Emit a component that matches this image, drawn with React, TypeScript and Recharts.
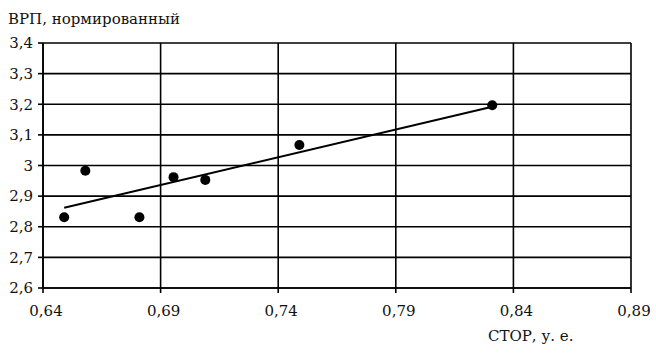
import React from 'react';
import { ScatterChart, Scatter, XAxis, YAxis, CartesianGrid } from 'recharts';

const xTicks = [0.64, 0.69, 0.74, 0.79, 0.84, 0.89];
const yTicks = [2.6, 2.7, 2.8, 2.9, 3.0, 3.1, 3.2, 3.3, 3.4];
const storValues = [0.649, 0.658, 0.681, 0.6955, 0.709, 0.749, 0.831];
const vrpValues = [2.831, 2.983, 2.831, 2.962, 2.953, 3.067, 3.197];
const trendX = [0.649, 0.831];
const trendY = [2.862, 3.192];

const points = storValues.map((x, i) => ({ x, y: vrpValues[i] }));
const trend = trendX.map((x, i) => ({ x, y: trendY[i] }));

const FONT = 'DejaVu Serif';
const fmt = (v: number) => {
  const r = Math.round(v * 100) / 100;
  let s: string;
  if (Math.abs(r - Math.round(r)) < 1e-6) s = String(Math.round(r));
  else if (Math.abs(r * 10 - Math.round(r * 10)) < 1e-6) s = r.toFixed(1);
  else s = r.toFixed(2);
  return s.replace('.', ',');
};

const Dot = (props: any) => <circle cx={props.cx} cy={props.cy} r={5} fill="#000" />;
const NoDot = () => <g />;

export default function App() {
  return (
    <div style={{ position: 'fixed', left: 0, top: 0, width: 656, height: 354, fontFamily: FONT, color: '#111', background: '#fff' }}>
      <div style={{ position: 'absolute', left: 8, top: 10, fontSize: 15, whiteSpace: 'nowrap' }}>ВРП, нормированный</div>
      <div style={{ position: 'absolute', left: 488, top: 328, fontSize: 15, lineHeight: '17px', whiteSpace: 'nowrap' }}>СТОР, у. е.</div>
      <ScatterChart width={656} height={354} margin={{ top: 43, right: 25, left: 8, bottom: 36 }}>
        <CartesianGrid stroke="#000" strokeWidth={1.6} />
        <XAxis
          type="number"
          dataKey="x"
          domain={[0.64, 0.89]}
          ticks={xTicks}
          interval={0}
          tickFormatter={fmt}
          height={30}
          tickSize={5}
          tickMargin={12}
          stroke="#000"
          strokeWidth={1.6}
          tick={{ fill: '#111', fontSize: 15, fontFamily: FONT, dx: 3 }}
          allowDataOverflow
        />
        <YAxis
          type="number"
          dataKey="y"
          domain={[2.6, 3.4]}
          ticks={yTicks}
          interval={0}
          tickFormatter={fmt}
          width={35}
          tickSize={5}
          tickMargin={5}
          stroke="#000"
          strokeWidth={1.6}
          tick={{ fill: '#111', fontSize: 15, fontFamily: FONT }}
          allowDataOverflow
        />
        <Scatter data={trend} line={{ stroke: '#000', strokeWidth: 2 }} shape={NoDot} isAnimationActive={false} />
        <Scatter data={points} shape={Dot} isAnimationActive={false} />
      </ScatterChart>
    </div>
  );
}
